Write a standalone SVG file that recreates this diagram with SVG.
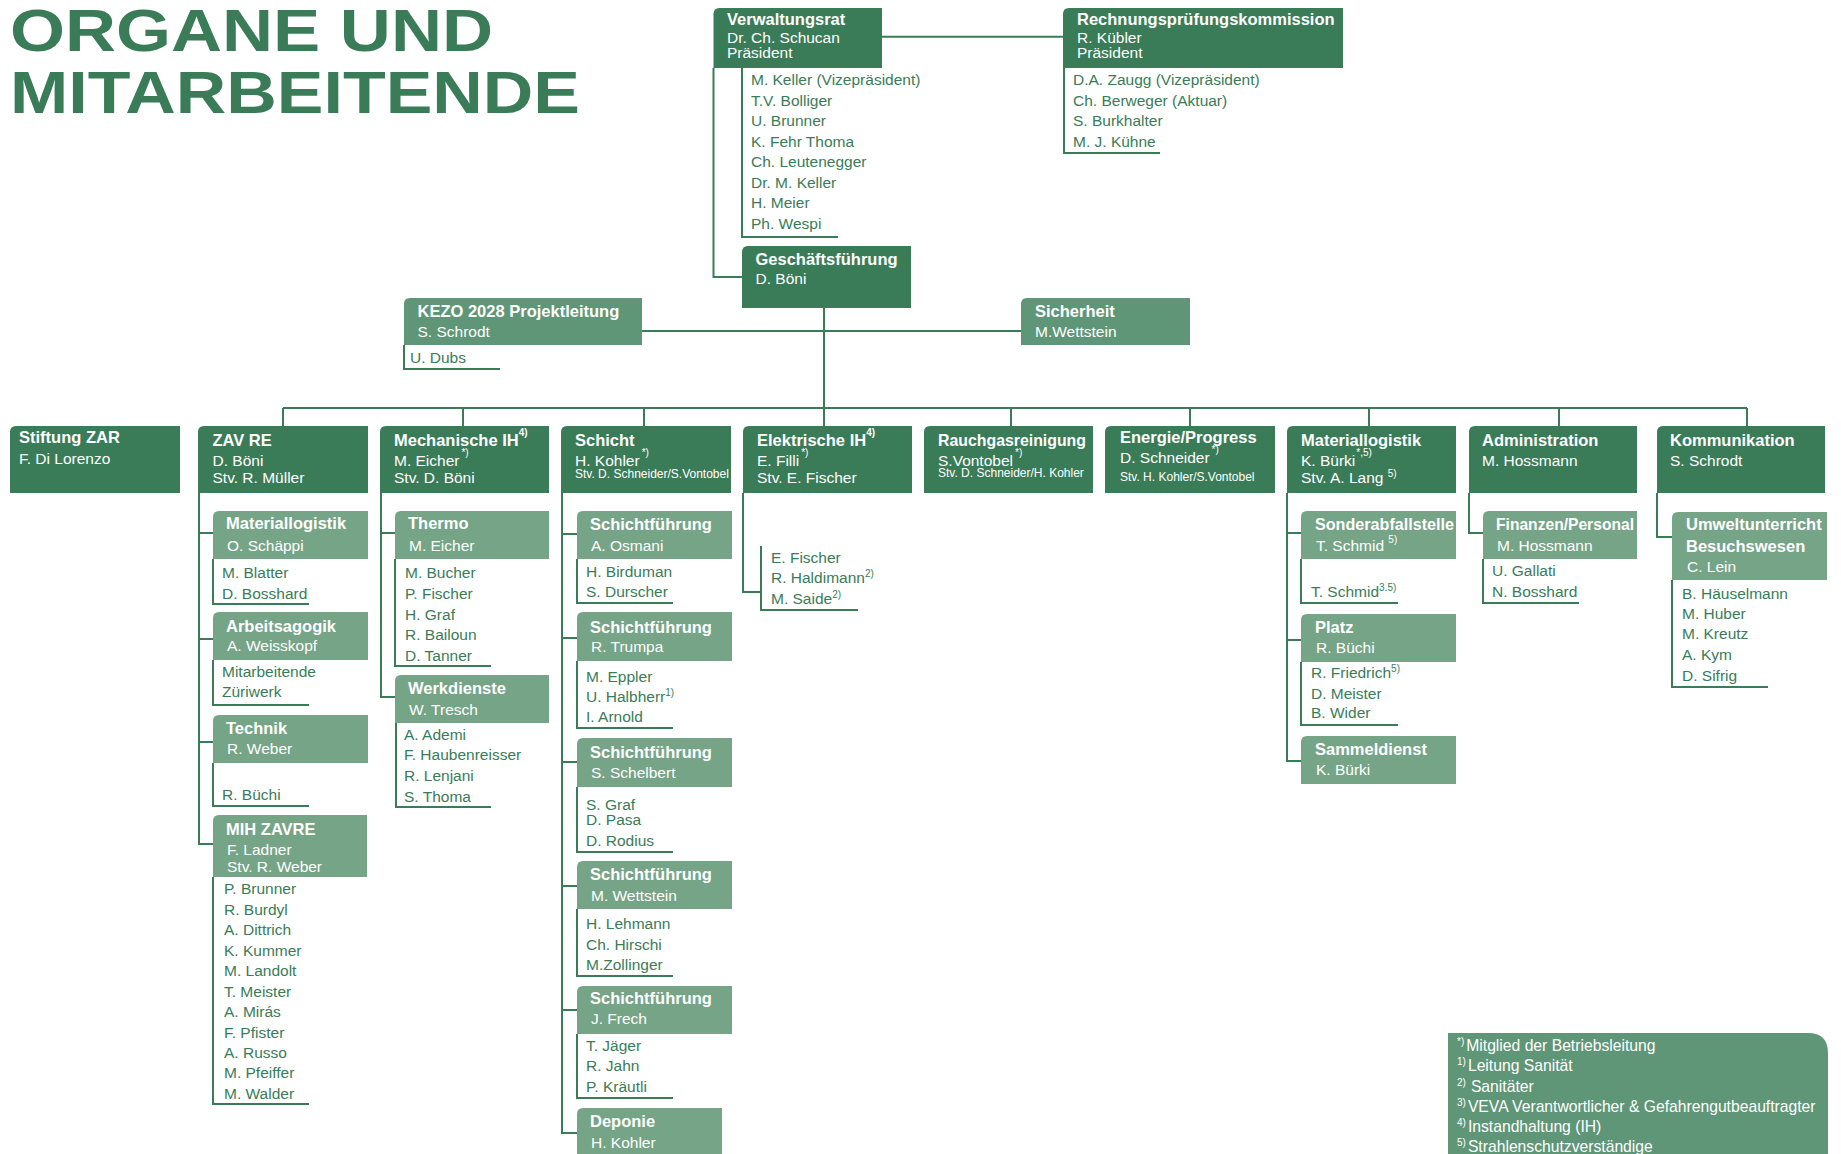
<svg xmlns="http://www.w3.org/2000/svg" width="1841" height="1154" viewBox="0 0 1841 1154">
<style>
.dk{fill:#3a7c58}.md{fill:#5f9677}.lt{fill:#76a487}
.t{font-family:"Liberation Sans",Arial,sans-serif;font-weight:bold;font-size:59px;fill:#3a7c58}
.h{font-family:"Liberation Sans",Arial,sans-serif;font-weight:bold;font-size:16.5px;fill:#fff}
.w{font-family:"Liberation Sans",Arial,sans-serif;font-size:15.5px;fill:#fff}
.s{font-family:"Liberation Sans",Arial,sans-serif;font-size:12px;fill:#fff}
.n{font-family:"Liberation Sans",Arial,sans-serif;font-size:15.5px;fill:#3a7c58}
.g{font-family:"Liberation Sans",Arial,sans-serif;font-size:15.7px;fill:#fff}
.sp{font-size:10px}
.ln{stroke:#3a7c58;stroke-width:2;fill:none}
</style>
<rect width="1841" height="1154" fill="#fff"/>
<g id="title">
<text class="t" x="10" y="51" textLength="483" lengthAdjust="spacingAndGlyphs">ORGANE UND</text>
<text class="t" x="10" y="113" textLength="570" lengthAdjust="spacingAndGlyphs">MITARBEITENDE</text>
</g>
<g id="connectors" class="ln">
<path d="M882,36.7H1063"/>
<path d="M713.5,68V277H742"/>
<path d="M742,68V237H838"/>
<path d="M1064,68V153H1160"/>
<path d="M824,308V408"/>
<path d="M642,331H1021"/>
<path d="M404,345V369H500"/>
<path d="M283,408H1747"/>
<path d="M283,408V426M463,408V426M644,408V426M824,408V426M1011,408V426M1190,408V426M1369,408V426M1559,408V426M1747,408V426"/>
<path d="M199,493V844H213M199,533H213M199,639H213M199,742H213"/>
<path d="M213,559V604H309M213,660V705H309M213,763V806H309M213,877V1104H309"/>
<path d="M381,493V697H395M381,533H395"/>
<path d="M395,559V666H491M396,723V807H491"/>
<path d="M562,493V1133H577M562,534H577M562,638H577M562,762H577M562,886H577M562,1010H577"/>
<path d="M577,559V603H673M577,661V728H673M577,787V852H673M577,909V976H673M577,1034V1098H673"/>
<path d="M743,493V592H761M761,546V610H858"/>
<path d="M1287,493V761H1301M1287,533H1301M1287,640H1301"/>
<path d="M1301,559V603H1398M1301,662V725H1398"/>
<path d="M1469,493V533H1483M1483,559V603H1579"/>
<path d="M1657,493V537H1672M1672,580V687H1768"/>
</g>
<g id="verwaltungsrat">
<path class="dk" d="M713.5,68V14Q713.5,8 719.5,8H882V68Z"/>
<text class="h" x="727" y="25">Verwaltungsrat</text>
<text class="w" x="727" y="43">Dr. Ch. Schucan</text>
<text class="w" x="727" y="58">Präsident</text>
<text class="n" x="751" y="85">M. Keller (Vizepräsident)</text>
<text class="n" x="751" y="106">T.V. Bolliger</text>
<text class="n" x="751" y="126">U. Brunner</text>
<text class="n" x="751" y="147">K. Fehr Thoma</text>
<text class="n" x="751" y="167">Ch. Leutenegger</text>
<text class="n" x="751" y="188">Dr. M. Keller</text>
<text class="n" x="751" y="208">H. Meier</text>
<text class="n" x="751" y="229">Ph. Wespi</text>
</g>
<g id="rpk">
<path class="dk" d="M1063,68V14Q1063,8 1069,8H1343V68Z"/>
<text class="h" x="1077" y="25">Rechnungsprüfungskommission</text>
<text class="w" x="1077" y="43">R. Kübler</text>
<text class="w" x="1077" y="58">Präsident</text>
<text class="n" x="1073" y="85">D.A. Zaugg (Vizepräsident)</text>
<text class="n" x="1073" y="106">Ch. Berweger (Aktuar)</text>
<text class="n" x="1073" y="126">S. Burkhalter</text>
<text class="n" x="1073" y="147">M. J. Kühne</text>
</g>
<g id="gf">
<path class="dk" d="M742,308V252Q742,246 748,246H911V308Z"/>
<text class="h" x="755.5" y="265">Geschäftsführung</text>
<text class="w" x="755.5" y="284">D. Böni</text>
</g>
<g id="kezo">
<path class="md" d="M404,345V304Q404,298 410,298H642V345Z"/>
<text class="h" x="417.5" y="317">KEZO 2028 Projektleitung</text>
<text class="w" x="417.5" y="337">S. Schrodt</text>
<text class="n" x="410" y="363">U. Dubs</text>
</g>
<g id="sicherheit">
<path class="md" d="M1021,345V304Q1021,298 1027,298H1190V345Z"/>
<text class="h" x="1035" y="317">Sicherheit</text>
<text class="w" x="1035" y="337">M.Wettstein</text>
</g>
<g id="stiftung">
<path class="dk" d="M10,493V432Q10,426 16,426H180V493Z"/>
<text class="h" x="19" y="443">Stiftung ZAR</text>
<text class="w" x="19" y="464">F. Di Lorenzo</text>
</g>
<g id="zavre">
<path class="dk" d="M198,493V432Q198,426 204,426H368V493Z"/>
<text class="h" x="212.5" y="446">ZAV RE</text>
<text class="w" x="212.5" y="466">D. Böni</text>
<text class="w" x="212.5" y="483">Stv. R. Müller</text>
</g>
<g id="zav-materiallogistik">
<path class="lt" d="M213,559V517Q213,511 219,511H368V559Z"/>
<text class="h" x="226" y="529">Materiallogistik</text>
<text class="w" x="227" y="551">O. Schäppi</text>
<text class="n" x="222" y="578">M. Blatter</text>
<text class="n" x="222" y="599">D. Bosshard</text>
</g>
<g id="arbeitsagogik">
<path class="lt" d="M213,660V618Q213,612 219,612H368V660Z"/>
<text class="h" x="226" y="632">Arbeitsagogik</text>
<text class="w" x="227" y="651">A. Weisskopf</text>
<text class="n" x="222" y="677">Mitarbeitende</text>
<text class="n" x="222" y="697">Züriwerk</text>
</g>
<g id="technik">
<path class="lt" d="M213,763V721Q213,715 219,715H368V763Z"/>
<text class="h" x="226" y="734">Technik</text>
<text class="w" x="227" y="754">R. Weber</text>
<text class="n" x="222" y="800">R. Büchi</text>
</g>
<g id="mihzavre">
<path class="lt" d="M213,877V821Q213,815 219,815H367V877Z"/>
<text class="h" x="226" y="835">MIH ZAVRE</text>
<text class="w" x="227" y="855">F. Ladner</text>
<text class="w" x="227" y="872">Stv. R. Weber</text>
<text class="n" x="224" y="894">P. Brunner</text>
<text class="n" x="224" y="915">R. Burdyl</text>
<text class="n" x="224" y="935">A. Dittrich</text>
<text class="n" x="224" y="956">K. Kummer</text>
<text class="n" x="224" y="976">M. Landolt</text>
<text class="n" x="224" y="997">T. Meister</text>
<text class="n" x="224" y="1017">A. Mirás</text>
<text class="n" x="224" y="1038">F. Pfister</text>
<text class="n" x="224" y="1058">A. Russo</text>
<text class="n" x="224" y="1078">M. Pfeiffer</text>
<text class="n" x="224" y="1099">M. Walder</text>
</g>
<g id="mechanische">
<path class="dk" d="M380,493V432Q380,426 386,426H549V493Z"/>
<text class="h" x="394" y="446">Mechanische IH<tspan class="sp" dy="-10">4)</tspan></text>
<text class="w" x="394" y="466">M. Eicher<tspan class="sp" dx="2" dy="-10">*)</tspan></text>
<text class="w" x="394" y="483">Stv. D. Böni</text>
</g>
<g id="thermo">
<path class="lt" d="M395,559V517Q395,511 401,511H549V559Z"/>
<text class="h" x="408" y="529">Thermo</text>
<text class="w" x="409" y="551">M. Eicher</text>
<text class="n" x="405" y="578">M. Bucher</text>
<text class="n" x="405" y="599">P. Fischer</text>
<text class="n" x="405" y="620">H. Graf</text>
<text class="n" x="405" y="640">R. Bailoun</text>
<text class="n" x="405" y="661">D. Tanner</text>
</g>
<g id="werkdienste">
<path class="lt" d="M395,723V681Q395,675 401,675H549V723Z"/>
<text class="h" x="408" y="694">Werkdienste</text>
<text class="w" x="409" y="715">W. Tresch</text>
<text class="n" x="404" y="740">A. Ademi</text>
<text class="n" x="404" y="760">F. Haubenreisser</text>
<text class="n" x="404" y="781">R. Lenjani</text>
<text class="n" x="404" y="802">S. Thoma</text>
</g>
<g id="schicht">
<path class="dk" d="M561,493V432Q561,426 567,426H731V493Z"/>
<text class="h" x="575" y="446">Schicht</text>
<text class="w" x="575" y="466">H. Kohler<tspan class="sp" dx="2" dy="-10">*)</tspan></text>
<text class="s" x="575" y="478">Stv. D. Schneider/S.Vontobel</text>
</g>
<g id="sf1">
<path class="lt" d="M577,559V517Q577,511 583,511H732V559Z"/>
<text class="h" x="590" y="530">Schichtführung</text>
<text class="w" x="591" y="551">A. Osmani</text>
<text class="n" x="586" y="577">H. Birduman</text>
<text class="n" x="586" y="597">S. Durscher</text>
</g>
<g id="sf2">
<path class="lt" d="M577,661V618Q577,612 583,612H732V661Z"/>
<text class="h" x="590" y="633">Schichtführung</text>
<text class="w" x="591" y="652">R. Trumpa</text>
<text class="n" x="586" y="682">M. Eppler</text>
<text class="n" x="586" y="702">U. Halbherr<tspan class="sp" dy="-6">1)</tspan></text>
<text class="n" x="586" y="722">I. Arnold</text>
</g>
<g id="sf3">
<path class="lt" d="M577,787V744Q577,738 583,738H732V787Z"/>
<text class="h" x="590" y="758">Schichtführung</text>
<text class="w" x="591" y="778">S. Schelbert</text>
<text class="n" x="586" y="810">S. Graf</text>
<text class="n" x="586" y="825">D. Pasa</text>
<text class="n" x="586" y="846">D. Rodius</text>
</g>
<g id="sf4">
<path class="lt" d="M577,909V867Q577,861 583,861H732V909Z"/>
<text class="h" x="590" y="880">Schichtführung</text>
<text class="w" x="591" y="901">M. Wettstein</text>
<text class="n" x="586" y="929">H. Lehmann</text>
<text class="n" x="586" y="950">Ch. Hirschi</text>
<text class="n" x="586" y="970">M.Zollinger</text>
</g>
<g id="sf5">
<path class="lt" d="M577,1034V992Q577,986 583,986H732V1034Z"/>
<text class="h" x="590" y="1004">Schichtführung</text>
<text class="w" x="591" y="1024">J. Frech</text>
<text class="n" x="586" y="1051">T. Jäger</text>
<text class="n" x="586" y="1071">R. Jahn</text>
<text class="n" x="586" y="1092">P. Kräutli</text>
</g>
<g id="deponie">
<path class="lt" d="M577,1160V1114Q577,1108 583,1108H722V1160Z"/>
<text class="h" x="590" y="1127">Deponie</text>
<text class="w" x="591" y="1148">H. Kohler</text>
</g>
<g id="elektrische">
<path class="dk" d="M743,493V432Q743,426 749,426H912V493Z"/>
<text class="h" x="757" y="446">Elektrische IH<tspan class="sp" dy="-10">4)</tspan></text>
<text class="w" x="757" y="466">E. Filli<tspan class="sp" dx="2" dy="-10">*)</tspan></text>
<text class="w" x="757" y="483">Stv. E. Fischer</text>
<text class="n" x="771" y="563">E. Fischer</text>
<text class="n" x="771" y="583">R. Haldimann<tspan class="sp" dy="-6">2)</tspan></text>
<text class="n" x="771" y="604">M. Saide<tspan class="sp" dy="-6">2)</tspan></text>
</g>
<g id="rauchgas">
<path class="dk" d="M924,493V432Q924,426 930,426H1093V493Z"/>
<text class="h" x="938" y="446" textLength="148" lengthAdjust="spacingAndGlyphs">Rauchgasreinigung</text>
<text class="w" x="938" y="466">S.Vontobel<tspan class="sp" dx="2" dy="-10">*)</tspan></text>
<text class="s" x="938" y="477">Stv. D. Schneider/H. Kohler</text>
</g>
<g id="energie">
<path class="dk" d="M1105,493V432Q1105,426 1111,426H1275V493Z"/>
<text class="h" x="1120" y="443">Energie/Progress</text>
<text class="w" x="1120" y="463">D. Schneider<tspan class="sp" dx="2" dy="-10">*)</tspan></text>
<text class="s" x="1120" y="481">Stv. H. Kohler/S.Vontobel</text>
</g>
<g id="materiallogistik">
<path class="dk" d="M1287,493V432Q1287,426 1293,426H1456V493Z"/>
<text class="h" x="1301" y="446">Materiallogistik</text>
<text class="w" x="1301" y="466">K. Bürki<tspan class="sp" dx="1" dy="-10">*,5)</tspan></text>
<text class="w" x="1301" y="483">Stv. A. Lang <tspan class="sp" dy="-6">5)</tspan></text>
</g>
<g id="sonderabfallstelle">
<path class="lt" d="M1301,559V517Q1301,511 1307,511H1456V559Z"/>
<text class="h" x="1315" y="530" textLength="139" lengthAdjust="spacingAndGlyphs">Sonderabfallstelle</text>
<text class="w" x="1316" y="551">T. Schmid <tspan class="sp" dy="-8">5)</tspan></text>
<text class="n" x="1311" y="597">T. Schmid<tspan class="sp" dy="-6">3.5)</tspan></text>
</g>
<g id="platz">
<path class="lt" d="M1301,662V620Q1301,614 1307,614H1456V662Z"/>
<text class="h" x="1315" y="633">Platz</text>
<text class="w" x="1316" y="653">R. Büchi</text>
<text class="n" x="1311" y="678">R. Friedrich<tspan class="sp" dy="-6">5)</tspan></text>
<text class="n" x="1311" y="699">D. Meister</text>
<text class="n" x="1311" y="718">B. Wider</text>
</g>
<g id="sammeldienst">
<path class="lt" d="M1301,784V742Q1301,736 1307,736H1456V784Z"/>
<text class="h" x="1315" y="755">Sammeldienst</text>
<text class="w" x="1316" y="775">K. Bürki</text>
</g>
<g id="administration">
<path class="dk" d="M1469,493V432Q1469,426 1475,426H1637V493Z"/>
<text class="h" x="1482" y="446">Administration</text>
<text class="w" x="1482" y="466">M. Hossmann</text>
</g>
<g id="finanzen">
<path class="lt" d="M1483,559V517Q1483,511 1489,511H1637V559Z"/>
<text class="h" x="1496" y="530" textLength="138" lengthAdjust="spacingAndGlyphs">Finanzen/Personal</text>
<text class="w" x="1497" y="551">M. Hossmann</text>
<text class="n" x="1492" y="576">U. Gallati</text>
<text class="n" x="1492" y="597">N. Bosshard</text>
</g>
<g id="kommunikation">
<path class="dk" d="M1657,493V432Q1657,426 1663,426H1825V493Z"/>
<text class="h" x="1670" y="446">Kommunikation</text>
<text class="w" x="1670" y="466">S. Schrodt</text>
</g>
<g id="umwelt">
<path class="lt" d="M1672,580V518Q1672,512 1678,512H1827V580Z"/>
<text class="h" x="1686" y="530">Umweltunterricht</text>
<text class="h" x="1686" y="552">Besuchswesen</text>
<text class="w" x="1687" y="572">C. Lein</text>
<text class="n" x="1682" y="599">B. Häuselmann</text>
<text class="n" x="1682" y="619">M. Huber</text>
<text class="n" x="1682" y="639">M. Kreutz</text>
<text class="n" x="1682" y="660">A. Kym</text>
<text class="n" x="1682" y="681">D. Sifrig</text>
</g>
<g id="legende">
<path class="md" d="M1448,1160V1033H1808Q1828,1033 1828,1053V1160Z"/>
<text class="g" x="1457" y="1051"><tspan class="sp" dy="-6">*)</tspan><tspan dx="2" dy="6">Mitglied der Betriebsleitung</tspan></text>
<text class="g" x="1457" y="1071"><tspan class="sp" dy="-6">1)</tspan><tspan dx="2" dy="6">Leitung Sanität</tspan></text>
<text class="g" x="1457" y="1091.5"><tspan class="sp" dy="-6">2)</tspan><tspan dx="5" dy="6">Sanitäter</tspan></text>
<text class="g" x="1457" y="1111.5"><tspan class="sp" dy="-6">3)</tspan><tspan dx="2" dy="6">VEVA Verantwortlicher &amp; Gefahrengutbeauftragter</tspan></text>
<text class="g" x="1457" y="1132"><tspan class="sp" dy="-6">4)</tspan><tspan dx="2" dy="6">Instandhaltung (IH)</tspan></text>
<text class="g" x="1457" y="1152"><tspan class="sp" dy="-6">5)</tspan><tspan dx="2" dy="6">Strahlenschutzverständige</tspan></text>
</g>
</svg>
